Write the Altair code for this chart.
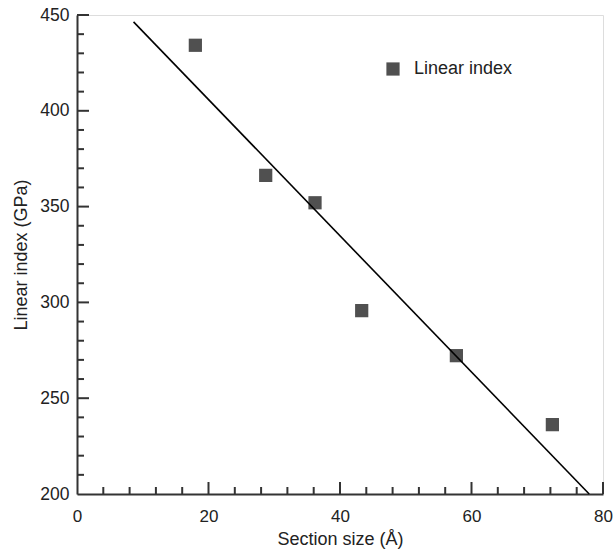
import altair as alt
import pandas as pd

# Data
size_x = [18.0, 28.7, 36.2, 43.3, 57.7, 72.3]
index_y = [434.2, 366.3, 352.0, 295.7, 272.2, 236.2]
fit_x = [8.6, 77.9]
fit_y = [446.4, 200.0]

x_major = [20, 40, 60, 80]
x_minor = [4, 8, 12, 16, 24, 28, 32, 36, 44, 48, 52, 56, 64, 68, 72, 76]
y_major = [250, 300, 350, 400, 450]
y_minor = [210, 220, 230, 240, 260, 270, 280, 290, 310, 320, 330, 340,
           360, 370, 380, 390, 410, 420, 430, 440]

W, H = 526, 479
FONT = "Liberation Sans"
AX = "#333333"

pts = pd.DataFrame({"x": size_x, "y": index_y, "series": ["Linear index"] * len(size_x)})
fit = pd.DataFrame({"x": fit_x, "y": fit_y})

xs = alt.Scale(domain=[0, 80], nice=False, zero=False)
ys = alt.Scale(domain=[200, 450], nice=False, zero=False)

x_axis = alt.Axis(values=[0, 20, 40, 60, 80], ticks=False, tickSize=0, grid=False,
                  labelFlush=False, labelOverlap=False,
                  domainColor=AX, domainWidth=2, labelFont=FONT, labelFontSize=17,
                  labelColor="#222222", labelPadding=14, title="Section size (Å)",
                  titleFont=FONT, titleFontSize=18, titleFontWeight="normal",
                  titleColor="#222222", titlePadding=6)
y_axis = alt.Axis(values=[200, 250, 300, 350, 400, 450], ticks=False, tickSize=0, grid=False,
                  labelFlush=False, labelOverlap=False,
                  domainColor=AX, domainWidth=2, labelFont=FONT, labelFontSize=17.5,
                  labelColor="#222222", labelPadding=8, title="Linear index (GPa)",
                  titleFont=FONT, titleFontSize=18, titleFontWeight="normal",
                  titleColor="#222222", titlePadding=9)

points = alt.Chart(pts).mark_point(filled=True, shape="square", size=175, opacity=1).encode(
    x=alt.X("x:Q", scale=xs, axis=x_axis),
    y=alt.Y("y:Q", scale=ys, axis=y_axis),
    color=alt.Color("series:N", scale=alt.Scale(range=["#505050"]),
                    legend=alt.Legend(title=None, orient="none", legendX=307, legendY=45,
                                      symbolType="square", symbolSize=175,
                                      labelFont=FONT, labelFontSize=18,
                                      labelColor="#222222", labelOffset=12)),
)

line = alt.Chart(fit).mark_line(color="black", strokeWidth=1.6).encode(
    x=alt.X("x:Q", scale=xs), y=alt.Y("y:Q", scale=ys)
)

xmaj = alt.Chart(pd.DataFrame({"v": x_major})).mark_rule(color=AX, strokeWidth=2).encode(
    x=alt.X("v:Q", scale=xs), y=alt.value(H), y2=alt.value(H - 12))
xmin = alt.Chart(pd.DataFrame({"v": x_minor})).mark_rule(color=AX, strokeWidth=2).encode(
    x=alt.X("v:Q", scale=xs), y=alt.value(H), y2=alt.value(H - 7))
ymaj = alt.Chart(pd.DataFrame({"v": y_major})).mark_rule(color=AX, strokeWidth=2).encode(
    y=alt.Y("v:Q", scale=ys), x=alt.value(0), x2=alt.value(12))
ymin = alt.Chart(pd.DataFrame({"v": y_minor})).mark_rule(color=AX, strokeWidth=2).encode(
    y=alt.Y("v:Q", scale=ys), x=alt.value(0), x2=alt.value(7))

chart = alt.layer(points, line, xmaj, xmin, ymaj, ymin).properties(
    width=W, height=H,
    autosize=alt.AutoSizeParams(type="none"),
    padding={"left": 77, "top": 15, "right": 10, "bottom": 59},
).configure_view(stroke=None).configure(background="white")

chart.save("out.html", embed_options={"renderer": "svg", "actions": False})
